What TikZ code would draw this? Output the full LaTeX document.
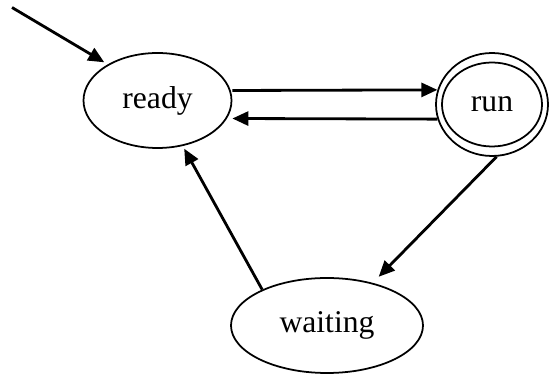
\documentclass[tikz,border=0pt]{standalone}
\usepackage{fontspec}
\setmainfont{Liberation Serif}
\usepackage{tikz}
\usetikzlibrary{shapes.geometric}
\usetikzlibrary{arrows.meta}

\begin{document}
\begin{tikzpicture}[
state/.style={ellipse, draw, line width=1pt, inner sep=0pt, font=\fontsize{18}{21}\selectfont},
arr/.style={line width=1.6pt, -{Triangle[length=0.32cm, width=0.28cm]}}
]
\useasboundingbox (0,0) rectangle (11,7.48);

% states
{
\node[state, minimum width=2.96cm, minimum height=1.9cm] (ready) at (3.15,5.47) {ready};
\node[state, minimum width=2.24cm, minimum height=2.06cm] (run) at (9.84,5.39) {run};
\draw[line width=1pt] (run.center) ellipse (1cm and 0.84cm);
\node[state, minimum width=3.84cm, minimum height=1.9cm] (waiting) at (6.54,0.97) {waiting};
}

\coordinate (start) at (0.24,7.33);

% arrows
{
\draw[arr, shorten >=0.08cm] (start) -- (ready.144);
\draw[arr] ([yshift=0.2cm]ready.east) -- (run.165);
\draw[arr] (run.195) -- ([yshift=-0.36cm]ready.east);
\draw[arr, shorten >=0.17cm] (run.-85) -- (waiting.43);
\draw[arr, shorten >=0.06cm] (waiting.151) -- (ready.-61);
}
\end{tikzpicture}
\end{document}
